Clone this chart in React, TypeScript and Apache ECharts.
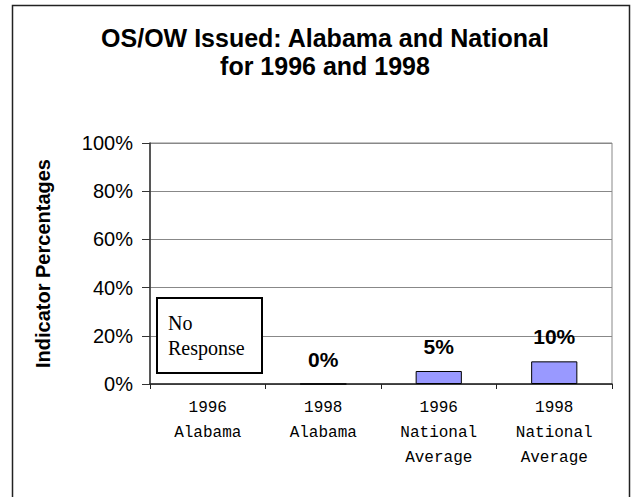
import React, { useEffect, useRef } from "react";
import * as echarts from "echarts";

const categories = [
  "1996\nAlabama",
  "1998\nAlabama",
  "1996\nNational\nAverage",
  "1998\nNational\nAverage",
];
const values: (number | null)[] = [null, 0, 5.4, 9.4];
const dataLabels = ["", "0%", "5%", "10%"];
const yTicks = [0, 20, 40, 60, 80, 100];
const titleText = "OS/OW Issued: Alabama and National\nfor 1996 and 1998";
const yAxisName = "Indicator Percentages";
const noResponseText = "No\nResponse";

const SANS = "Arial, 'Liberation Sans', sans-serif";

export default function App() {
  const ref = useRef<HTMLDivElement>(null);
  useEffect(() => {
    if (!ref.current) return;
    const chart = echarts.init(ref.current, undefined, { renderer: "svg" });
    chart.setOption({
      animation: false,
      backgroundColor: "#ffffff",
      title: {
        text: titleText,
        left: 320,
        top: 19,
        textAlign: "center",
        textStyle: {
          fontFamily: SANS,
          fontWeight: "bold",
          fontSize: 25,
          lineHeight: 28,
          color: "#000",
        },
      },
      grid: {
        left: 150,
        right: 20,
        top: 143,
        bottom: 113,
        show: true,
        borderColor: "#888",
        borderWidth: 1,
      },
      xAxis: {
        type: "category",
        data: categories,
        axisLine: { show: true, lineStyle: { color: "#222", width: 1.5 } },
        axisTick: { show: true, length: 5, interval: 0, lineStyle: { color: "#222" } },
        axisLabel: {
          interval: 0,
          fontFamily: "'Liberation Mono', 'Courier New', monospace",
          fontSize: 16,
          lineHeight: 25,
          margin: 11,
          color: "#000",
        },
        splitLine: { show: false },
      },
      yAxis: {
        type: "value",
        min: yTicks[0],
        max: yTicks[yTicks.length - 1],
        interval: 20,
        name: yAxisName,
        nameLocation: "middle",
        nameRotate: 90,
        nameGap: 97,
        nameTextStyle: {
          fontFamily: SANS,
          fontWeight: "bold",
          fontSize: 20,
          color: "#000",
        },
        axisLine: { show: true, lineStyle: { color: "#333", width: 1.5 } },
        axisTick: { show: true, length: 8, lineStyle: { color: "#333" } },
        axisLabel: {
          formatter: "{value}%",
          fontFamily: SANS,
          fontSize: 20,
          margin: 17,
          color: "#000",
        },
        splitLine: { show: true, lineStyle: { color: "#888", width: 1 } },
      },
      series: [
        {
          type: "bar",
          data: values,
          barWidth: "40%",
          itemStyle: { color: "#9999FF", borderColor: "#000", borderWidth: 1 },
          label: {
            show: true,
            position: "top",
            distance: 14,
            formatter: (p: any) => dataLabels[p.dataIndex],
            fontFamily: SANS,
            fontWeight: "bold",
            fontSize: 21,
            color: "#000",
          },
        },
      ],
      graphic: [
        {
          type: "rect",
          left: 10,
          top: 3,
          shape: { x: 0, y: 0, width: 617, height: 510 },
          style: { fill: "none", stroke: "#222", lineWidth: 1.5 },
          silent: true,
        },
        {
          type: "rect",
          shape: { x: 157, y: 298, width: 105, height: 75 },
          style: { fill: "#fff", stroke: "#000", lineWidth: 2 },
          z: 100,
        },
        {
          type: "text",
          x: 168,
          y: 310,
          style: {
            text: noResponseText,
            fontFamily: "'Liberation Serif', 'Times New Roman', serif",
            fontSize: 20,
            lineHeight: 25,
            fill: "#000",
          },
          z: 101,
        },
      ],
    });
    return () => chart.dispose();
  }, []);
  return (
    <div
      ref={ref}
      style={{ position: "absolute", left: 0, top: 0, width: 632, height: 497, background: "#fff" }}
    />
  );
}
